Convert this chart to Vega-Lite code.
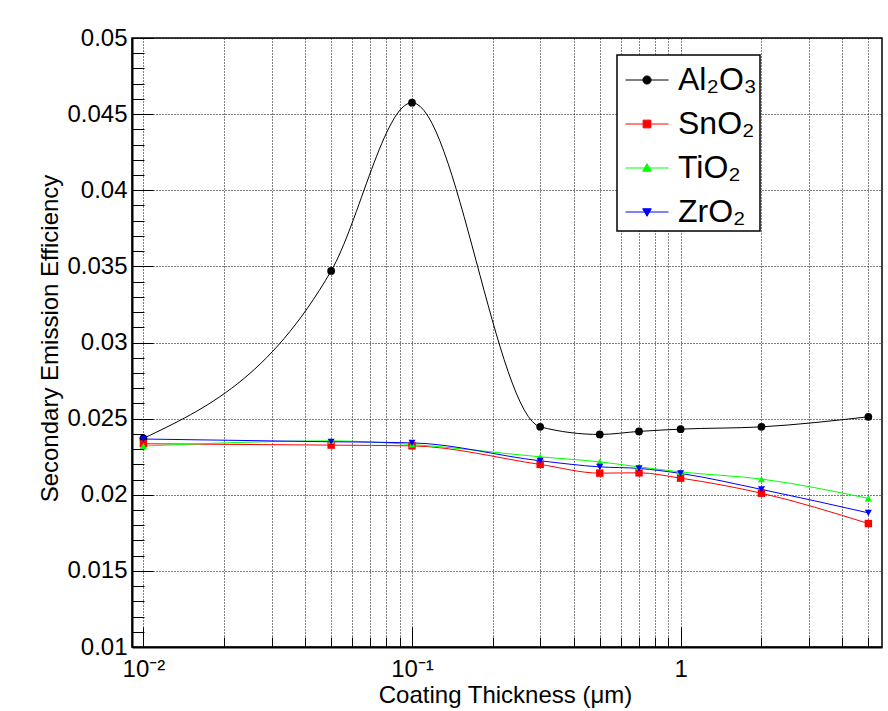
{
  "$schema": "https://vega.github.io/schema/vega-lite/v6.json",
  "width": 750,
  "height": 609,
  "autosize": {"type": "none"},
  "padding": {"left": 132, "top": 38, "right": 6, "bottom": 64},
  "background": "white",
  "config": {
    "font": "Liberation Sans",
    "view": {"stroke": "black", "strokeWidth": 1.5, "fill": "white"},
    "axis": {"labelFont": "Liberation Sans", "titleFont": "Liberation Sans", "labelColor": "black", "titleColor": "black", "titleFontWeight": "normal", "domainColor": "black", "tickColor": "black"}
  },
  "data": {
    "values": [
      {"m": "Al₂O₃", "t": 0.01, "e": 0.0237},
      {"m": "Al₂O₃", "t": 0.05, "e": 0.0347},
      {"m": "Al₂O₃", "t": 0.1, "e": 0.04575},
      {"m": "Al₂O₃", "t": 0.3, "e": 0.02446},
      {"m": "Al₂O₃", "t": 0.5, "e": 0.02396},
      {"m": "Al₂O₃", "t": 0.7, "e": 0.02416},
      {"m": "Al₂O₃", "t": 1, "e": 0.02431},
      {"m": "Al₂O₃", "t": 2, "e": 0.02446},
      {"m": "Al₂O₃", "t": 5, "e": 0.02512},
      {"m": "SnO₂", "t": 0.01, "e": 0.02335},
      {"m": "SnO₂", "t": 0.05, "e": 0.02326},
      {"m": "SnO₂", "t": 0.1, "e": 0.02321},
      {"m": "SnO₂", "t": 0.3, "e": 0.02199},
      {"m": "SnO₂", "t": 0.5, "e": 0.02142},
      {"m": "SnO₂", "t": 0.7, "e": 0.02144},
      {"m": "SnO₂", "t": 1, "e": 0.02109},
      {"m": "SnO₂", "t": 2, "e": 0.0201},
      {"m": "SnO₂", "t": 5, "e": 0.01811},
      {"m": "TiO₂", "t": 0.01, "e": 0.0232},
      {"m": "TiO₂", "t": 0.05, "e": 0.02354},
      {"m": "TiO₂", "t": 0.1, "e": 0.0233},
      {"m": "TiO₂", "t": 0.3, "e": 0.02249},
      {"m": "TiO₂", "t": 0.5, "e": 0.02216},
      {"m": "TiO₂", "t": 0.7, "e": 0.02183},
      {"m": "TiO₂", "t": 1, "e": 0.0215},
      {"m": "TiO₂", "t": 2, "e": 0.02103},
      {"m": "TiO₂", "t": 5, "e": 0.01976},
      {"m": "ZrO₂", "t": 0.01, "e": 0.02366},
      {"m": "ZrO₂", "t": 0.05, "e": 0.02348},
      {"m": "ZrO₂", "t": 0.1, "e": 0.02341},
      {"m": "ZrO₂", "t": 0.3, "e": 0.02223},
      {"m": "ZrO₂", "t": 0.5, "e": 0.02183},
      {"m": "ZrO₂", "t": 0.7, "e": 0.02173},
      {"m": "ZrO₂", "t": 1, "e": 0.0214},
      {"m": "ZrO₂", "t": 2, "e": 0.02035},
      {"m": "ZrO₂", "t": 5, "e": 0.01881}
    ]
  },
  "resolve": {"axis": {"x": "independent", "y": "independent"}},
  "layer": [
    {
      "mark": {"type": "line", "interpolate": "monotone", "strokeWidth": 1},
      "encoding": {
        "x": {"field": "t", "type": "quantitative",
          "scale": {"type": "log", "domain": [0.00907, 5.62], "nice": false},
          "axis": {"orient": "bottom", "values": [0.01, 0.1, 1], "labelExpr": "datum.value < 0.05 ? '10⁻²' : datum.value < 0.5 ? '10⁻¹' : '1'",
            "labelFontSize": 24, "labelPadding": 30, "labelBaseline": "top", "labelFlush": false, "labelOverlap": false,
            "tickSize": -20, "tickWidth": 1, "domainWidth": 2,
            "grid": true, "gridDash": [1, 2], "gridColor": "#000", "gridWidth": 1,
            "title": "Coating Thickness (μm)", "titleFontSize": 24, "titleX": 373, "titleY": 55, "titleBaseline": "alphabetic", "titleAlign": "center"}},
        "y": {"field": "e", "type": "quantitative",
          "scale": {"domain": [0.01, 0.05], "nice": false, "zero": false},
          "axis": {"orient": "left", "values": [0.01, 0.015, 0.02, 0.025, 0.03, 0.035, 0.04, 0.045, 0.05], "labelExpr": "format(datum.value, '.3~f')",
            "labelFontSize": 24, "labelPadding": 26, "labelBaseline": "middle", "labelFlush": false, "labelOverlap": false,
            "tickSize": -21, "tickWidth": 1, "domainWidth": 2,
            "grid": true, "gridDash": [1, 2], "gridColor": "#000", "gridWidth": 1,
            "title": "Secondary Emission Efficiency", "titleFontSize": 24, "titleX": -75, "titleY": 300, "titleBaseline": "alphabetic", "titleAlign": "center", "titleAngle": -90}},
        "color": {"field": "m", "type": "nominal",
          "scale": {"domain": ["Al₂O₃", "SnO₂", "TiO₂", "ZrO₂"], "range": ["#000000", "#ff0000", "#00ff00", "#0000ff"]},
          "legend": {"orient": "none", "legendX": 485, "legendY": 17, "title": null,
            "fillColor": "white", "strokeColor": "black", "padding": 3,
            "symbolSize": 1849, "symbolOffset": 5, "symbolStrokeWidth": 1, "labelOffset": 9, "rowPadding": 6,
            "labelFont": "Liberation Sans", "labelFontSize": 32, "labelColor": "black", "labelLimit": 600,
            "labelExpr": "datum.label + '\u00a0\u00a0\u00a0\u00a0\u00a0\u00a0\u00a0\u00a0\u00a0\u00a0\u00a0\u00a0\u00a0\u00a0\u00a0\u00a0\u00a0\u00a0\u00a0\u00a0\u00a0\u00a0\u00a0\u00a0\u00a0\u00a0\u00a0\u00a0\u00a0\u00a0\u00a0\u00a0\u00a0\u00a0\u00a0\u00a0'",
            "encode": {
              "legend": {"update": {"strokeWidth": {"value": 1.5}}},
              "symbols": {"update": {
                "shape": {"signal": "datum.value === 'Al₂O₃' ? 'M-1,0H1M0.19,0A0.19,0.19 0 1,1 -0.19,0A0.19,0.19 0 1,1 0.19,0Z' : datum.value === 'SnO₂' ? 'M-1,0H1M-0.18,-0.18H0.18V0.18H-0.18Z' : datum.value === 'TiO₂' ? 'M-1,0H1M0,-0.2L0.2,0.15L-0.2,0.15Z' : 'M-1,0H1M0,0.2L0.2,-0.15L-0.2,-0.15Z'"},
                "fill": {"scale": "color", "field": "value"},
                "size": {"value": 1849},
                "strokeWidth": {"value": 1},
                "opacity": {"value": 1}
              }}
            }
          }}
      }
    },
    {
      "transform": [{"filter": "datum.m === 'Al₂O₃'"}],
      "mark": {"type": "point", "filled": true, "size": 60, "opacity": 1, "shape": "circle", "color": "#000000"},
      "encoding": {
        "x": {"field": "t", "type": "quantitative",
          "axis": {"orient": "bottom", "values": [0.02, 0.03, 0.04, 0.05, 0.06, 0.07, 0.08, 0.09, 0.2, 0.3, 0.4, 0.5, 0.6, 0.7, 0.8, 0.9, 2, 3, 4, 5],
            "labels": false, "tickSize": -10, "tickWidth": 1, "domain": false,
            "grid": true, "gridDash": [1, 2], "gridColor": "#000", "gridWidth": 1, "title": null}},
        "y": {"field": "e", "type": "quantitative",
          "axis": {"orient": "left", "values": [0.011, 0.012, 0.013, 0.014, 0.016, 0.017, 0.018, 0.019, 0.021, 0.022, 0.023, 0.024, 0.026, 0.027, 0.028, 0.029, 0.031, 0.032, 0.033, 0.034, 0.036, 0.037, 0.038, 0.039, 0.041, 0.042, 0.043, 0.044, 0.046, 0.047, 0.048, 0.049],
            "labels": false, "tickSize": -12, "tickWidth": 1, "domain": false, "grid": false, "title": null}}
      }
    },
    {
      "transform": [{"filter": "datum.m === 'SnO₂'"}],
      "mark": {"type": "point", "filled": true, "size": 55, "opacity": 1, "shape": "square", "color": "#ff0000"},
      "encoding": {
        "x": {"field": "t", "type": "quantitative", "axis": null},
        "y": {"field": "e", "type": "quantitative", "axis": null}
      }
    },
    {
      "transform": [{"filter": "datum.m === 'TiO₂'"}],
      "mark": {"type": "point", "filled": true, "size": 50, "opacity": 1, "shape": "triangle-up", "color": "#00ff00"},
      "encoding": {
        "x": {"field": "t", "type": "quantitative", "axis": null},
        "y": {"field": "e", "type": "quantitative", "axis": null}
      }
    },
    {
      "transform": [{"filter": "datum.m === 'ZrO₂'"}],
      "mark": {"type": "point", "filled": true, "size": 50, "opacity": 1, "shape": "triangle-down", "color": "#0000ff"},
      "encoding": {
        "x": {"field": "t", "type": "quantitative", "axis": null},
        "y": {"field": "e", "type": "quantitative", "axis": null}
      }
    }
  ]
}
